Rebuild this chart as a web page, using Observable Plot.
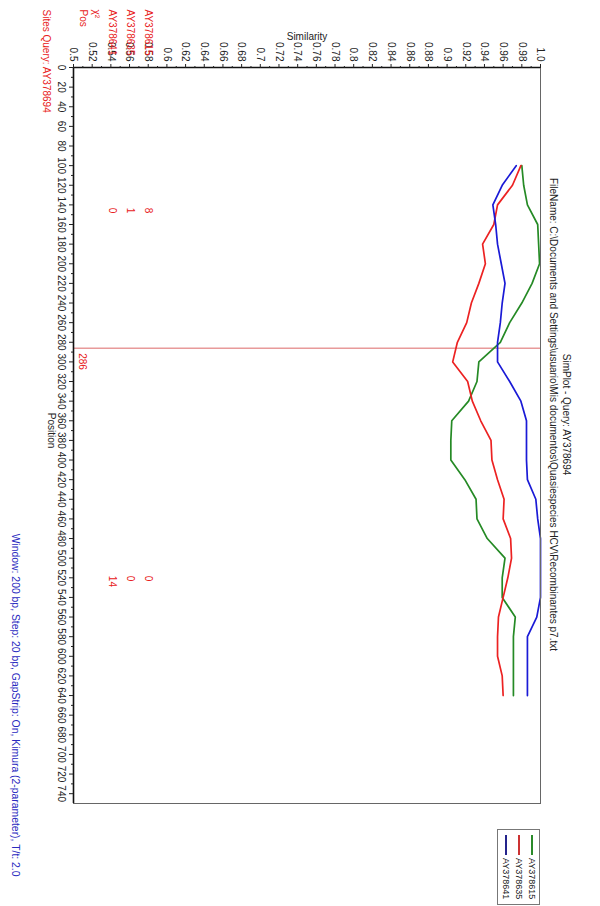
<!DOCTYPE html>
<html><head><meta charset="utf-8">
<script src="https://cdn.jsdelivr.net/npm/d3@7"></script>
<script src="https://cdn.jsdelivr.net/npm/@observablehq/plot@0.6"></script>
<style>
html,body{margin:0;padding:0;background:#fff;}
#wrap{position:relative;width:600px;height:906px;overflow:hidden;font-family:"Liberation Sans",Arial,sans-serif;}
#legend{position:absolute;left:497px;top:829px;width:43px;height:76px;border:1px solid #777;box-sizing:border-box;background:#fff}
.entry{position:absolute;top:5px;width:10px;height:70px}
.entry .sw{position:absolute;left:4px;top:0;width:2px;height:20px}
.entry .lb{position:absolute;left:0;top:23px;writing-mode:vertical-rl;font-size:9px;line-height:10px;color:#222}
</style></head>
<body><div id="wrap"></div>
<script>
// ---- data ----
const positions = [100,120,140,160,180,200,220,240,260,280,300,320,340,360,380,400,420,440,460,480,500,520,540,560,580,600,620,640];
const seqNames = ["AY378615","AY378635","AY378641"];
const seqColors = ["#258a25","#ec2222","#1a1ad6"];
const legendColors = ["#2a8a2a","#cc3333","#24248c"];
const simAY378615 = [0.980,0.982,0.986,0.997,0.998,0.999,0.991,0.980,0.967,0.957,0.934,0.932,0.923,0.905,0.904,0.904,0.919,0.931,0.932,0.943,0.962,0.959,0.959,0.973,0.971,0.971,0.971,0.971];
const simAY378635 = [0.979,0.970,0.954,0.950,0.938,0.941,0.934,0.926,0.921,0.911,0.906,0.922,0.927,0.936,0.947,0.948,0.954,0.961,0.960,0.968,0.969,0.965,0.960,0.955,0.954,0.954,0.959,0.960];
const simAY378641 = [0.974,0.959,0.949,0.952,0.954,0.958,0.962,0.959,0.957,0.954,0.954,0.967,0.979,0.985,0.985,0.985,0.986,0.995,0.997,1.000,1.000,1.000,1.000,0.996,0.986,0.986,0.986,0.986];
const breakpoint = 286;
const simTicks = [0.5,0.52,0.54,0.56,0.58,0.6,0.62,0.64,0.66,0.68,0.7,0.72,0.74,0.76,0.78,0.8,0.82,0.84,0.86,0.88,0.9,0.92,0.94,0.96,0.98,1.0];
const simTickLabels = ["0.5","0.52","0.54","0.56","0.58","0.6","0.62","0.64","0.66","0.68","0.7","0.72","0.74","0.76","0.78","0.8","0.82","0.84","0.86","0.88","0.9","0.92","0.94","0.96","0.98","1.0"];
const posTicks = d3.range(0, 741, 20);
const siteRegionCenters = [143, 518];
const sitesAY378615 = [8, 0];
const sitesAY378635 = [1, 0];
const sitesAY378641 = [0, 14];
const titleText = "SimPlot - Query: AY378694";
const fileText = "FileName: C:\\Documents and Settings\\usuario\\Mis documentos\\Quasiespecies HCV\\Recombinantes p7.txt";
const footerText = "Window: 200 bp, Step: 20 bp, GapStrip: On, Kimura (2-parameter), T/t: 2.0";
const sitesHeader = "Sites Query: AY378694";

// ---- build ----
const seriesVals = [simAY378615, simAY378635, simAY378641];
const lineMarks = seqNames.map((n, k) =>
  Plot.line(positions.map((p, i) => ({pos: p, sim: seriesVals[k][i]})),
    {x: "sim", y: "pos", stroke: seqColors[k], strokeWidth: 1.7}));

const siteCols = [sitesAY378615, sitesAY378635, sitesAY378641];
const siteDx = [75, 57, 39];
const siteMarks = siteCols.map((vals, k) =>
  Plot.text(siteRegionCenters.map((c, i) => ({pos: c, v: vals[i]})),
    {y: "pos", text: d => String(d.v), frameAnchor: "left", dx: siteDx[k], rotate: 90,
     textAnchor: "start", lineAnchor: "middle", fill: "#e82020", fontSize: 10}));

const headerLabels = [sitesHeader, "Pos", "\u03c7\u00b2", "AY378641", "AY378635", "AY378615"];
const headerDx = [-27, 10, 23, 39, 57, 75];
const headerMarks = headerLabels.map((t, k) =>
  Plot.text([t], {frameAnchor: "top-left", dx: headerDx[k], dy: -58, rotate: 90,
    textAnchor: "start", lineAnchor: "middle", fill: "#e82020", fontSize: 10}));

const fmt = d => simTickLabels[simTicks.findIndex(t => Math.abs(t - d) < 1e-9)] ?? "";

const chart = Plot.plot({
  width: 600, height: 906,
  marginLeft: 73, marginRight: 60, marginTop: 67, marginBottom: 103,
  x: {domain: [0.5, 1.0]},
  y: {domain: [0, 750], reverse: true},
  style: {fontFamily: "'Liberation Sans', Arial, sans-serif", fontSize: "10px", background: "white", color: "#222"},
  marks: [
    Plot.ruleY([breakpoint], {stroke: "#e89a9a", strokeWidth: 1.5}),
    ...lineMarks,
    Plot.frame({stroke: "#666", strokeWidth: 1}),
    Plot.ruleX([0.5], {stroke: "#111", strokeWidth: 1.6}),
    Plot.ruleY([0], {stroke: "#111", strokeWidth: 1.6}),
    Plot.axisX({anchor: "top", ticks: simTicks, tickSize: 4, tickRotate: 90, textAnchor: "end", lineAnchor: "middle",
      tickPadding: 2, tickFormat: fmt, label: null, fontSize: 10}),
    Plot.axisX({anchor: "top", ticks: d3.range(0.51, 1.0, 0.02), tickSize: 2, tickFormat: () => "", label: null}),
    Plot.axisY({anchor: "left", ticks: posTicks, tickSize: 4, tickRotate: 90, textAnchor: "middle", lineAnchor: "middle",
      tickPadding: 8, tickFormat: d => String(d), label: null, fontSize: 10}),
    Plot.axisY({anchor: "left", ticks: d3.range(10, 750, 20), tickSize: 2, tickFormat: () => "", label: null}),
    Plot.text(["Similarity"], {frameAnchor: "top", dy: -35, fontSize: 10, fill: "#222"}),
    Plot.text(["Position"], {frameAnchor: "left", dx: -22, dy: -5, rotate: 90, textAnchor: "middle", fontSize: 10, fill: "#222"}),
    Plot.text([footerText], {frameAnchor: "bottom-left", dx: -58, dy: 73, rotate: 90, textAnchor: "end",
      lineAnchor: "middle", fontSize: 10.4, fill: "#2a2ac0"}),
    Plot.text([titleText], {frameAnchor: "right", dx: 26, dy: -21, rotate: 90, textAnchor: "middle", lineAnchor: "middle", fontSize: 10, fill: "#222"}),
    Plot.text([fileText], {frameAnchor: "right", dx: 13, dy: -21, rotate: 90, textAnchor: "middle", lineAnchor: "middle", fontSize: 10, fill: "#222"}),
    ...headerMarks,
    ...siteMarks,
    Plot.text([breakpoint], {y: d => d, text: d => String(d), frameAnchor: "left", dx: 9, dy: 5, rotate: 90,
      textAnchor: "start", lineAnchor: "middle", fill: "#e82020", fontSize: 10})
  ]
});
const wrap = document.getElementById("wrap");
wrap.appendChild(chart);

// legend
const leg = document.createElement("div");
leg.id = "legend";
const legX = [29, 16, 3];
seqNames.forEach((n, k) => {
  const e = document.createElement("div");
  e.className = "entry";
  e.style.left = legX[k] + "px";
  e.innerHTML = `<div class="sw" style="background:${legendColors[k]}"></div><div class="lb">${n}</div>`;
  leg.appendChild(e);
});
wrap.appendChild(leg);
</script>
</body></html>
